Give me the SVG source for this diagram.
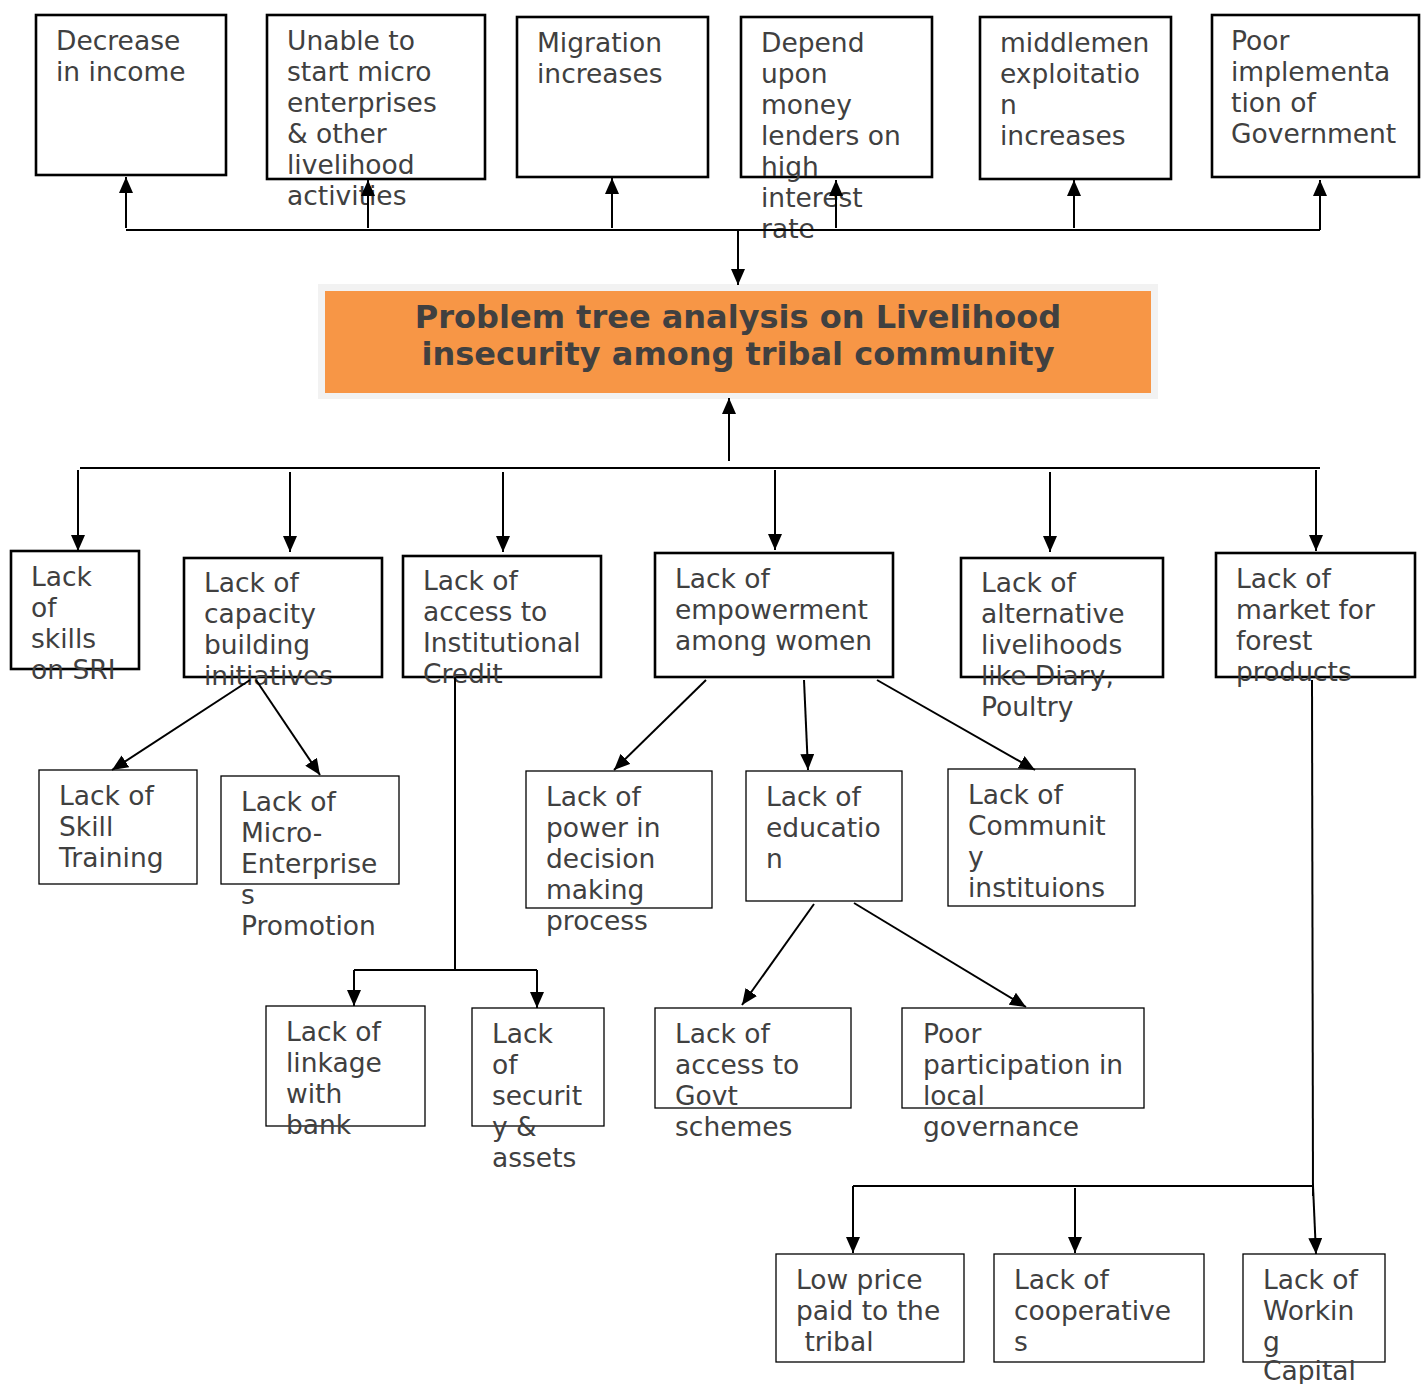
<svg xmlns="http://www.w3.org/2000/svg" width="1426" height="1384" viewBox="0 0 1426 1384">
<defs>
<marker id="ah" markerUnits="userSpaceOnUse" markerWidth="16" markerHeight="14" refX="16" refY="7" orient="auto" viewBox="0 0 16 14">
<path d="M0,0 L16,7 L0,14 z" fill="#000"/>
</marker>
</defs>
<style>
.bk{fill:#fff;stroke:#000;stroke-width:2.6}
.bt{fill:#fff;stroke:#000;stroke-width:1.3}
.t{font-family:"DejaVu Sans","Noto Sans",sans-serif;font-size:26.5px;fill:#404040}
.ti{font-family:"DejaVu Sans","Noto Sans",sans-serif;font-size:32px;font-weight:bold;fill:#404040}
.c{fill:none;stroke:#000;stroke-width:2}
.ca{fill:none;stroke:#000;stroke-width:2;marker-end:url(#ah)}
</style>
<rect width="1426" height="1384" fill="#fff"/>

<g id="n-decrease"><rect class="bk" x="36" y="15" width="190" height="160"/><text class="t" x="56"><tspan x="56" y="50">Decrease</tspan><tspan x="56" y="81">in income</tspan></text></g>
<g id="n-unable"><rect class="bk" x="267" y="15" width="218" height="164"/><text class="t"><tspan x="287" y="50">Unable to</tspan><tspan x="287" y="81">start micro</tspan><tspan x="287" y="112">enterprises</tspan><tspan x="287" y="143">&amp; other</tspan><tspan x="287" y="174">livelihood</tspan><tspan x="287" y="205">activities</tspan></text></g>
<g id="n-migration"><rect class="bk" x="517" y="17" width="191" height="160"/><text class="t"><tspan x="537" y="52">Migration</tspan><tspan x="537" y="83">increases</tspan></text></g>
<g id="n-depend"><rect class="bk" x="741" y="17" width="191" height="160"/><text class="t"><tspan x="761" y="52">Depend</tspan><tspan x="761" y="83">upon</tspan><tspan x="761" y="114">money</tspan><tspan x="761" y="145">lenders on</tspan><tspan x="761" y="176">high</tspan><tspan x="761" y="207">interest</tspan><tspan x="761" y="238">rate</tspan></text></g>
<g id="n-middlemen"><rect class="bk" x="980" y="17" width="191" height="162"/><text class="t"><tspan x="1000" y="52">middlemen</tspan><tspan x="1000" y="83">exploitatio</tspan><tspan x="1000" y="114">n</tspan><tspan x="1000" y="145">increases</tspan></text></g>
<g id="n-poor-impl"><rect class="bk" x="1212" y="15" width="207" height="162"/><text class="t"><tspan x="1231" y="50">Poor</tspan><tspan x="1231" y="81">implementa</tspan><tspan x="1231" y="112">tion of</tspan><tspan x="1231" y="143">Government</tspan></text></g>

<g id="n-core"><rect x="318" y="284" width="840" height="115" fill="#f2f2f2"/><rect x="325" y="291" width="826" height="102" fill="#f79646"/><text class="ti" text-anchor="middle"><tspan x="738" y="328">Problem tree analysis on Livelihood</tspan><tspan x="738" y="365">insecurity among tribal community</tspan></text></g>

<g id="n-skills-sri"><rect class="bk" x="11" y="551" width="128" height="118"/><text class="t"><tspan x="31" y="586">Lack</tspan><tspan x="31" y="617">of</tspan><tspan x="31" y="648">skills</tspan><tspan x="31" y="679">on SRI</tspan></text></g>
<g id="n-capacity"><rect class="bk" x="184" y="558" width="198" height="119"/><text class="t"><tspan x="204" y="592">Lack of</tspan><tspan x="204" y="623">capacity</tspan><tspan x="204" y="654">building</tspan><tspan x="204" y="685">initiatives</tspan></text></g>
<g id="n-credit"><rect class="bk" x="403" y="556" width="198" height="121"/><text class="t"><tspan x="423" y="590">Lack of</tspan><tspan x="423" y="621">access to</tspan><tspan x="423" y="652">Institutional</tspan><tspan x="423" y="683">Credit</tspan></text></g>
<g id="n-women"><rect class="bk" x="655" y="553" width="238" height="124"/><text class="t"><tspan x="675" y="588">Lack of</tspan><tspan x="675" y="619">empowerment</tspan><tspan x="675" y="650">among women</tspan></text></g>
<g id="n-alt"><rect class="bk" x="961" y="558" width="202" height="119"/><text class="t"><tspan x="981" y="592">Lack of</tspan><tspan x="981" y="623">alternative</tspan><tspan x="981" y="654">livelihoods</tspan><tspan x="981" y="685">like Diary,</tspan><tspan x="981" y="716">Poultry</tspan></text></g>
<g id="n-market"><rect class="bk" x="1216" y="553" width="199" height="124"/><text class="t"><tspan x="1236" y="588">Lack of</tspan><tspan x="1236" y="619">market for</tspan><tspan x="1236" y="650">forest</tspan><tspan x="1236" y="681">products</tspan></text></g>

<g id="n-skill-training"><rect class="bt" x="39" y="770" width="158" height="114"/><text class="t"><tspan x="59" y="805">Lack of</tspan><tspan x="59" y="836">Skill</tspan><tspan x="59" y="867">Training</tspan></text></g>
<g id="n-micro"><rect class="bt" x="221" y="776" width="178" height="108"/><text class="t"><tspan x="241" y="811">Lack of</tspan><tspan x="241" y="842">Micro-</tspan><tspan x="241" y="873">Enterprise</tspan><tspan x="241" y="904">s</tspan><tspan x="241" y="935">Promotion</tspan></text></g>
<g id="n-power"><rect class="bt" x="526" y="771" width="186" height="137"/><text class="t"><tspan x="546" y="806">Lack of</tspan><tspan x="546" y="837">power in</tspan><tspan x="546" y="868">decision</tspan><tspan x="546" y="899">making</tspan><tspan x="546" y="930">process</tspan></text></g>
<g id="n-education"><rect class="bt" x="746" y="771" width="156" height="130"/><text class="t"><tspan x="766" y="806">Lack of</tspan><tspan x="766" y="837">educatio</tspan><tspan x="766" y="868">n</tspan></text></g>
<g id="n-community"><rect class="bt" x="948" y="769" width="187" height="137"/><text class="t"><tspan x="968" y="804">Lack of</tspan><tspan x="968" y="835">Communit</tspan><tspan x="968" y="866">y</tspan><tspan x="968" y="897">instituions</tspan></text></g>

<g id="n-bank"><rect class="bt" x="266" y="1006" width="159" height="120"/><text class="t"><tspan x="286" y="1041">Lack of</tspan><tspan x="286" y="1072">linkage</tspan><tspan x="286" y="1103">with</tspan><tspan x="286" y="1134">bank</tspan></text></g>
<g id="n-security"><rect class="bt" x="472" y="1008" width="132" height="118"/><text class="t"><tspan x="492" y="1043">Lack</tspan><tspan x="492" y="1074">of</tspan><tspan x="492" y="1105">securit</tspan><tspan x="492" y="1136">y &amp;</tspan><tspan x="492" y="1167">assets</tspan></text></g>
<g id="n-govt"><rect class="bt" x="655" y="1008" width="196" height="100"/><text class="t"><tspan x="675" y="1043">Lack of</tspan><tspan x="675" y="1074">access to</tspan><tspan x="675" y="1105">Govt</tspan><tspan x="675" y="1136">schemes</tspan></text></g>
<g id="n-participation"><rect class="bt" x="902" y="1008" width="242" height="100"/><text class="t"><tspan x="923" y="1043">Poor</tspan><tspan x="923" y="1074">participation in</tspan><tspan x="923" y="1105">local</tspan><tspan x="923" y="1136">governance</tspan></text></g>

<g id="n-lowprice"><rect class="bt" x="776" y="1254" width="188" height="108"/><text class="t" xml:space="preserve"><tspan x="796" y="1289">Low price</tspan><tspan x="796" y="1320">paid to the</tspan><tspan x="796" y="1351"> tribal</tspan></text></g>
<g id="n-coop"><rect class="bt" x="994" y="1254" width="210" height="108"/><text class="t"><tspan x="1014" y="1289">Lack of</tspan><tspan x="1014" y="1320">cooperative</tspan><tspan x="1014" y="1351">s</tspan></text></g>
<g id="n-capital"><rect class="bt" x="1243" y="1254" width="142" height="108"/><text class="t"><tspan x="1263" y="1289">Lack of</tspan><tspan x="1263" y="1320">Workin</tspan><tspan x="1263" y="1351">g</tspan><tspan x="1263" y="1380">Capital</tspan></text></g>

<g id="connectors">
<path class="c" d="M126,230 H1320"/>
<path class="ca" d="M126,228 V177"/>
<path class="ca" d="M368,228 V180"/>
<path class="ca" d="M612,228 V178"/>
<path class="ca" d="M836,228 V180"/>
<path class="ca" d="M1074,228 V180"/>
<path class="ca" d="M1320,230 V180"/>
<path class="ca" d="M738,230 V285"/>
<path class="ca" d="M729,461 V398"/>
<path class="c" d="M80,468 H1320"/>
<path class="ca" d="M78,470 V551"/>
<path class="ca" d="M290,472 V552"/>
<path class="ca" d="M503,472 V552"/>
<path class="ca" d="M775,470 V550"/>
<path class="ca" d="M1050,472 V552"/>
<path class="ca" d="M1316,470 V551"/>
<path class="ca" d="M250,680 L112,770"/>
<path class="ca" d="M256,680 L320,775"/>
<path class="c" d="M455,677 V970"/>
<path class="c" d="M354,970 H537"/>
<path class="ca" d="M354,970 V1006"/>
<path class="ca" d="M537,970 V1008"/>
<path class="ca" d="M706,680 L614,770"/>
<path class="ca" d="M804,680 L808,770"/>
<path class="ca" d="M877,680 L1035,770"/>
<path class="ca" d="M814,904 L742,1005"/>
<path class="ca" d="M854,903 L1026,1007"/>
<path class="c" d="M1312,680 L1313,1196"/>
<path class="c" d="M853,1186 H1314"/>
<path class="ca" d="M853,1186 V1253"/>
<path class="ca" d="M1075,1188 V1253"/>
<path class="ca" d="M1313,1186 L1316,1254"/>
</g>
</svg>
